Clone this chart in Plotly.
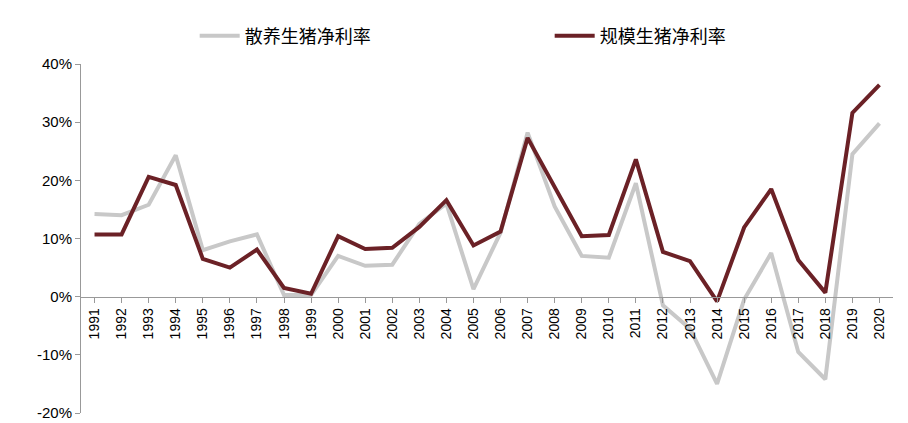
import plotly.graph_objects as go

years = [str(y) for y in range(1991, 2021)]
sanyang = [14.2, 14.0, 15.8, 24.3, 8.0, 9.5, 10.7, 0.3, 0.3, 7.0, 5.3, 5.5, 12.5, 16.0, 1.3,
           11.0, 28.2, 15.5, 7.0, 6.7, 19.5, -1.5, -5.5, -15.0, -0.5, 7.5, -9.5, -14.2, 24.5, 29.8]
guimo = [10.7, 10.7, 20.6, 19.2, 6.5, 5.0, 8.1, 1.5, 0.5, 10.4, 8.2, 8.4, 12.0, 16.6, 8.8,
         11.2, 27.3, 19.0, 10.4, 10.6, 23.6, 7.7, 6.1, -0.8, 11.9, 18.5, 6.3, 0.7, 31.6, 36.4]
yticks = [-20, -10, 0, 10, 20, 30, 40]

fig = go.Figure()
fig.add_trace(go.Scatter(x=years, y=sanyang, name="散养生猪净利率", mode="lines",
                         line=dict(color="#C8C8C8", width=4)))
fig.add_trace(go.Scatter(x=years, y=guimo, name="规模生猪净利率", mode="lines",
                         line=dict(color="#6B2126", width=4)))

ymin, ymax = -20, 40
fig.update_layout(
    width=908, height=423, paper_bgcolor="white", plot_bgcolor="white",
    margin=dict(l=73, r=23, t=27, b=10),
    font=dict(family="Liberation Sans, Noto Sans CJK SC", size=14, color="#000"),
    showlegend=True,
    legend=dict(orientation="h", x=0.14, y=1.08, xanchor="left", yanchor="middle",
                font=dict(size=18, family="Noto Sans CJK SC"), itemwidth=40,
                traceorder="normal", entrywidth=300, entrywidthmode="pixels"),
    xaxis=dict(type="category", anchor="free", position=(0 - ymin) / (ymax - ymin),
               showline=True, linecolor="#999", linewidth=1, ticks="outside",
               ticklen=5, tickcolor="#999", tickangle=-90, showgrid=False,
               tickfont=dict(size=14), range=[-0.5, 29.5]),
    yaxis=dict(range=[ymin, ymax], tickvals=yticks, ticktext=[f"{v}%" for v in yticks],
               showline=True, linecolor="#999", ticks="outside", ticklen=5,
               tickcolor="#999", showgrid=False, zeroline=False, tickfont=dict(size=15)),
)
fig.write_html("out.html")
